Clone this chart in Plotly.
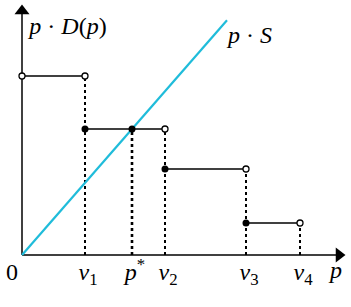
import plotly.graph_objects as go

# Data (arbitrary units)
v_vals = [6.3, 14.3, 22.4, 27.8]          # v1..v4
p_star = 11.0
levels = [17.9, 12.6, 8.6, 3.2]            # p*D(p) on each step
step_starts = [0.0, 6.3, 14.3, 22.4]
supply_slope = 12.6 / 11.0
supply_end_p = 20.5
tick_vals = [0.0, 6.3, 11.0, 14.3, 22.4, 27.8]
tick_text = ["0", "<i>v</i><sub>1</sub>", "<i>p</i><sup>*</sup>", "<i>v</i><sub>2</sub>",
             "<i>v</i><sub>3</sub>", "<i>v</i><sub>4</sub>"]

fig = go.Figure()
FONT = "Liberation Serif, DejaVu Serif, serif"

# dotted verticals
for xs, lv in zip(v_vals, levels):
    fig.add_trace(go.Scatter(x=[xs, xs], y=[0, lv], mode="lines",
                             line=dict(color="black", width=2, dash="dot")))
fig.add_trace(go.Scatter(x=[p_star, p_star], y=[0, levels[1]], mode="lines",
                         line=dict(color="black", width=2.6, dash="dot")))

# axes
fig.add_trace(go.Scatter(x=[0, 31.5], y=[0, 0], mode="lines", line=dict(color="black", width=1.5)))
fig.add_trace(go.Scatter(x=[0, 0], y=[0, 24.2], mode="lines", line=dict(color="black", width=1.5)))
fig.add_trace(go.Scatter(x=[31.7], y=[0], mode="markers",
                         marker=dict(symbol="triangle-right", size=13, color="black")))
fig.add_trace(go.Scatter(x=[0], y=[24.4], mode="markers",
                         marker=dict(symbol="triangle-up", size=13, color="black")))

# supply line
fig.add_trace(go.Scatter(x=[0, supply_end_p], y=[0, supply_slope * supply_end_p], mode="lines",
                         line=dict(color="#1fbcda", width=2.2)))

# steps
for s, e, lv in zip(step_starts, v_vals, levels):
    fig.add_trace(go.Scatter(x=[s, e], y=[lv, lv], mode="lines",
                             line=dict(color="black", width=1.3)))
# filled dots
fig.add_trace(go.Scatter(x=step_starts[1:] + [p_star], y=levels[1:] + [levels[1]], mode="markers",
                         marker=dict(symbol="circle", size=7, color="black")))
# open dots
fig.add_trace(go.Scatter(x=[step_starts[0]] + v_vals, y=[levels[0]] + levels, mode="markers",
                         marker=dict(symbol="circle", size=6, color="white",
                                     line=dict(color="black", width=1.3))))

# text labels as a text trace
lab_x = [tv + (-1.0 if tv == 0 else 0.3) for tv in tick_vals] + [31.4, 4.6, 22.8]
lab_y = [-1.9] * len(tick_vals) + [-1.7, 22.7, 21.8]
lab_t = tick_text + ["<i>p</i>", "<i>p</i> · <i>D</i>(<i>p</i>)", "<i>p</i> · <i>S</i>"]
fig.add_trace(go.Scatter(x=lab_x, y=lab_y, text=lab_t, mode="text",
                         textposition="middle center",
                         textfont=dict(family=FONT, size=24, color="black")))

fig.update_layout(width=351, height=307, margin=dict(l=0, r=0, t=0, b=0),
                  font=dict(family=FONT, size=24, color="black"),
                  plot_bgcolor="white", paper_bgcolor="white", showlegend=False,
                  xaxis=dict(range=[-2.2, 32.9], visible=False, fixedrange=True),
                  yaxis=dict(range=[-5.2, 25.5], visible=False, fixedrange=True))
fig.write_html("out.html")
